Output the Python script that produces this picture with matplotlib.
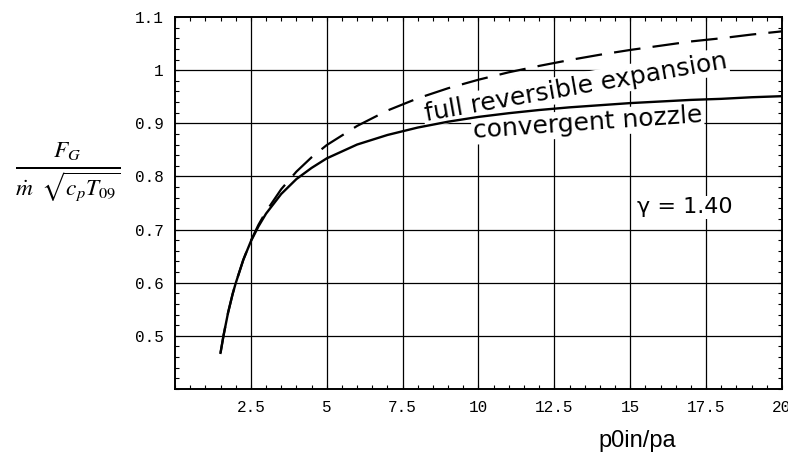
import matplotlib
matplotlib.use("Agg")
import matplotlib.pyplot as plt
from matplotlib.ticker import MultipleLocator

# pressure ratio p0in/pa
ratio = [1.5, 1.6, 1.75, 1.9, 2.0, 2.25, 2.5, 2.75, 3.0, 3.5, 4.0, 4.5, 5.0, 6.0, 7.0,
         8.0, 9.0, 10.0, 11.0, 12.0, 13.0, 14.0, 15.0, 16.0, 17.0, 18.0, 19.0, 20.0]
# convergent nozzle (solid)
convergent = [0.468, 0.501, 0.544, 0.579, 0.599, 0.643, 0.678, 0.706, 0.730, 0.767,
              0.795, 0.816, 0.834, 0.860, 0.878, 0.892, 0.903, 0.912, 0.919, 0.925,
              0.930, 0.934, 0.938, 0.941, 0.944, 0.946, 0.949, 0.951]
# full reversible expansion (dashed)
full_exp = [0.468, 0.501, 0.544, 0.579, 0.599, 0.643, 0.679, 0.709, 0.734, 0.776,
            0.809, 0.836, 0.859, 0.895, 0.924, 0.947, 0.966, 0.982, 0.996, 1.008,
            1.019, 1.029, 1.038, 1.046, 1.054, 1.060, 1.067, 1.073]

xticks = [2.5, 5, 7.5, 10, 12.5, 15, 17.5, 20]
xticklabels = ["2.5", "5", "7.5", "10", "12.5", "15", "17.5", "20"]
yticks = [0.5, 0.6, 0.7, 0.8, 0.9, 1.0, 1.1]
yticklabels = ["0.5", "0.6", "0.7", "0.8", "0.9", "1", "1.1"]

plt.rcParams["mathtext.fontset"] = "stix"

fig = plt.figure(figsize=(7.88, 4.53), dpi=100)
ax = fig.add_axes([175/788, 1-389/453, (782-175)/788, (389-17)/453])
ax.set_xlim(0, 20)
ax.set_ylim(0.4, 1.1)

# grid
for xv in xticks[:-1]:
    ax.axvline(xv, color="black", lw=0.9, zorder=0.5)
for yv in yticks[:-1]:
    ax.axhline(yv, color="black", lw=0.9, zorder=0.5)

ax.plot(ratio, full_exp, color="black", lw=1.6, linestyle=(0, (12, 5.5)), zorder=3)
ax.plot(ratio, convergent, color="black", lw=1.7, zorder=3)

ax.set_xticks(xticks)
ax.set_xticklabels(xticklabels)
ax.set_yticks(yticks)
ax.set_yticklabels(yticklabels)
ax.xaxis.set_minor_locator(MultipleLocator(0.5))
ax.yaxis.set_minor_locator(MultipleLocator(0.02))
ax.tick_params(which="both", direction="in", top=True, right=True, width=0.8)
ax.tick_params(which="major", length=3, pad=8)
ax.tick_params(which="minor", length=3)
for lab in ax.get_xticklabels() + ax.get_yticklabels():
    lab.set_family("Liberation Mono")
    lab.set_fontsize(11.5)
for sp in ax.spines.values():
    sp.set_linewidth(1.4)

bb = dict(facecolor="white", edgecolor="none", pad=1.0)
ax.text(13.2, 0.968, "full reversible expansion", rotation=10, ha="center", va="center",
        fontsize=18, family="DejaVu Sans", bbox=bb, zorder=2, rotation_mode="anchor")
ax.text(13.6, 0.900, "convergent nozzle", rotation=4, ha="center", va="center",
        fontsize=18, family="DejaVu Sans", bbox=bb, zorder=2, rotation_mode="anchor")
ax.text(16.8, 0.742, "γ = 1.40", ha="center", va="center",
        fontsize=16, family="DejaVu Sans", bbox=bb, zorder=2)

fig.text(68/788, 1-172/453, r"$\frac{F_G}{\dot{m}\;\;\sqrt{c_p T_{09}}}$",
         ha="center", va="center", fontsize=24)
fig.text(637/788, 1-441/453, "p0in/pa", ha="center", va="center",
         fontsize=17, family="Liberation Sans")

fig.savefig("out.png", dpi=100)
